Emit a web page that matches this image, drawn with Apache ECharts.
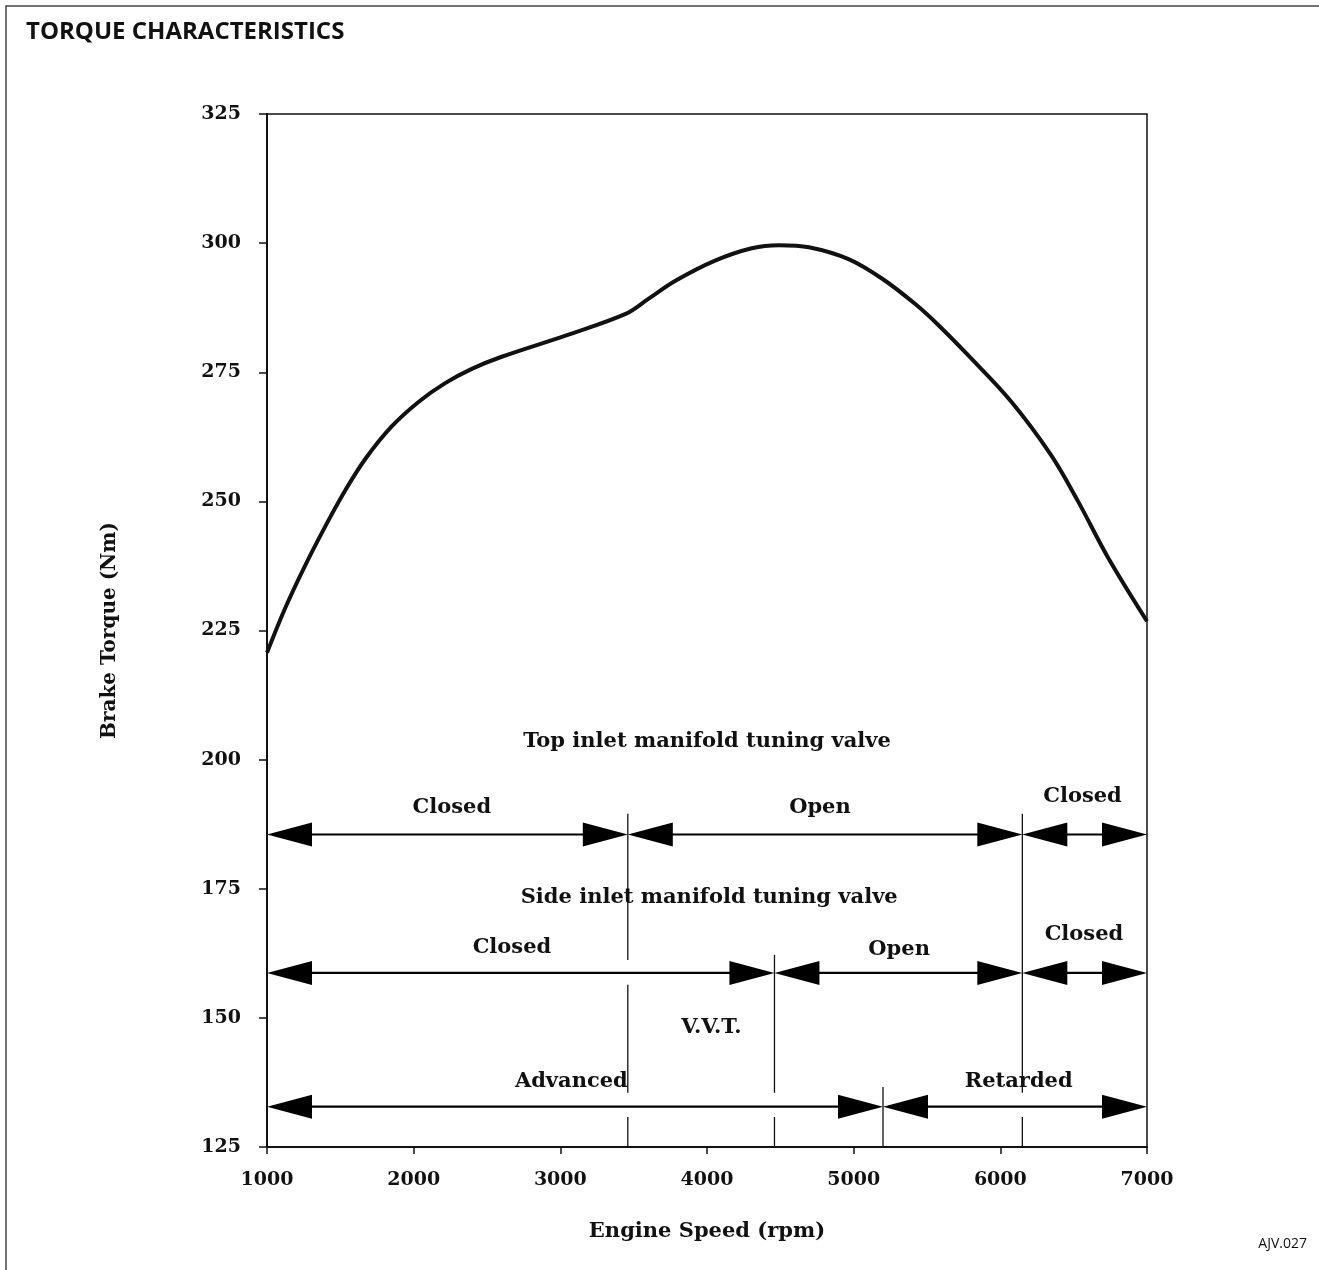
<!DOCTYPE html>
<html>
<head>
<meta charset="utf-8">
<title>Torque characteristics</title>
<script src="https://cdn.jsdelivr.net/npm/echarts/dist/echarts.min.js"></script>
<style>
  html, body { margin: 0; padding: 0; background: #fff; }
  #chart { width: 1319px; height: 1270px; }
</style>
</head>
<body>
<div id="chart"></div>
<script>
// torque curve, [rpm, Nm]
var torqueCurve = [
  [1000, 220.7], [1125, 229.4], [1250, 237], [1400, 245.3], [1535, 252.2],
  [1670, 258.2], [1850, 264.5], [2035, 269.3], [2215, 272.9], [2400, 275.7],
  [2600, 278], [3035, 282.1], [3445, 286.3], [3600, 289.2], [3785, 292.7],
  [4055, 296.6], [4305, 299], [4490, 299.6], [4695, 299.2], [4965, 296.9],
  [5195, 293.1], [5420, 288.2], [5575, 284.2], [5780, 278.3], [6075, 269.3],
  [6345, 259], [6530, 250], [6735, 239.1], [7000, 226.8]
]
// double arrows: [from rpm, to rpm, level]
var arrowSpans = [
  [1000, 3460, 185.5], [3460, 6150, 185.5], [6150, 7000, 185.5],
  [1000, 4460, 158.7], [4460, 6150, 158.7], [6150, 7000, 158.7],
  [1000, 5200, 132.8], [5200, 7000, 132.8]
]
// divider lines: [rpm, top, bottom]
var dividers = [
  [3460, 189.5, 161.2], [3460, 156.4, 135.5], [3460, 130.8, 125],
  [4460, 162.2, 135.5], [4460, 130.8, 125],
  [5200, 136.6, 125],
  [6150, 189.5, 135.5], [6150, 130.8, 125]
]
// annotations: [rpm, Nm, text]
var notes = [
  [4000, 203.5, 'Top inlet manifold tuning valve'],
  [2260, 190.7, 'Closed'], [4770, 190.7, 'Open'], [6560, 192.8, 'Closed'],
  [4015, 173.3, 'Side inlet manifold tuning valve'],
  [2670, 163.6, 'Closed'], [5310, 163.2, 'Open'], [6570, 166.1, 'Closed'],
  [4030, 148.1, 'V.V.T.'],
  [3075, 137.6, 'Advanced'], [6125, 137.6, 'Retarded']
]
var yTicks = [125, 150, 175, 200, 225, 250, 275, 300, 325]
var xTicks = [1000, 2000, 3000, 4000, 5000, 6000, 7000]

var serif = 'DejaVu Serif'
var myChart = echarts.init(document.getElementById('chart'))

function renderArrow (params, api) {
  var lvl = api.value(2)
  var a = api.coord([api.value(0), lvl])
  var b = api.coord([api.value(1), lvl])
  var L = 45
  var H = 12
  return {
    type: 'group',
    children: [
      { type: 'line', shape: { x1: a[0] + L - 2, y1: a[1], x2: b[0] - L + 2, y2: b[1] }, style: { stroke: '#000', lineWidth: 2.2 } },
      { type: 'polygon', shape: { points: [[a[0], a[1]], [a[0] + L, a[1] - H], [a[0] + L, a[1] + H]] }, style: { fill: '#000' } },
      { type: 'polygon', shape: { points: [[b[0], b[1]], [b[0] - L, b[1] - H], [b[0] - L, b[1] + H]] }, style: { fill: '#000' } }
    ]
  }
}

function renderDivider (params, api) {
  var p1 = api.coord([api.value(0), api.value(1)])
  var p2 = api.coord([api.value(0), api.value(2)])
  return { type: 'line', shape: { x1: p1[0], y1: p1[1], x2: p2[0], y2: p2[1] }, style: { stroke: '#111', lineWidth: 1.3 } }
}

function renderNote (params, api) {
  var p = api.coord([api.value(0), api.value(1)])
  return {
    type: 'text',
    x: p[0],
    y: p[1],
    style: {
      text: notes[params.dataIndex][2],
      fontFamily: serif,
      fontWeight: 'bold',
      fontSize: 21,
      fill: '#111',
      align: 'center',
      verticalAlign: 'middle'
    }
  }
}

var option = {
  animation: false,
  backgroundColor: '#fff',
  title: {
    text: 'TORQUE CHARACTERISTICS',
    left: 21,
    top: 15,
    textStyle: { fontFamily: 'Open Sans', fontWeight: 'bold', fontSize: 24, color: '#111' }
  },
  graphic: [
    { type: 'polyline', shape: { points: [[6, 1270], [6, 6], [1319, 6]] }, style: { stroke: '#444', lineWidth: 1.5, fill: null } },
    { type: 'text', right: 12, top: 1237, style: { text: 'AJV.027', fontFamily: 'Open Sans', fontSize: 14, fill: '#111' } }
  ],
  grid: {
    left: 267,
    right: 172,
    top: 114,
    bottom: 123,
    show: true,
    borderColor: '#111',
    borderWidth: 1.5
  },
  xAxis: {
    type: 'value',
    min: xTicks[0],
    max: xTicks[xTicks.length - 1],
    interval: 1000,
    name: 'Engine Speed (rpm)',
    nameLocation: 'middle',
    nameGap: 74,
    nameTextStyle: { fontFamily: serif, fontWeight: 'bold', fontSize: 21, color: '#111' },
    axisLine: { lineStyle: { color: '#111', width: 2 } },
    axisTick: { length: 7, lineStyle: { color: '#111', width: 1.5 } },
    axisLabel: {
      margin: 24,
      fontFamily: serif,
      fontWeight: 'bold',
      fontSize: 19,
      color: '#111',
      formatter: function (v) { return String(v) }
    },
    splitLine: { show: false }
  },
  yAxis: {
    type: 'value',
    min: yTicks[0],
    max: yTicks[yTicks.length - 1],
    interval: 25,
    name: 'Brake Torque (Nm)',
    nameLocation: 'middle',
    nameGap: 147,
    nameRotate: 90,
    nameTextStyle: { fontFamily: serif, fontWeight: 'bold', fontSize: 20, color: '#111' },
    axisLine: { lineStyle: { color: '#111', width: 2 } },
    axisTick: { length: 8, lineStyle: { color: '#111', width: 1.5 } },
    axisLabel: { margin: 26, fontFamily: serif, fontWeight: 'bold', fontSize: 19, color: '#111' },
    splitLine: { show: false }
  },
  series: [
    {
      name: 'torque',
      type: 'line',
      data: torqueCurve,
      smooth: 0.35,
      showSymbol: false,
      symbol: 'none',
      lineStyle: { color: '#111', width: 4 }
    },
    {
      name: 'arrows',
      type: 'custom',
      renderItem: renderArrow,
      encode: { x: [0, 1], y: 2 },
      data: arrowSpans,
      z: 3
    },
    {
      name: 'dividers',
      type: 'custom',
      renderItem: renderDivider,
      encode: { x: 0, y: [1, 2] },
      data: dividers,
      z: 2
    },
    {
      name: 'notes',
      type: 'custom',
      renderItem: renderNote,
      encode: { x: 0, y: 1 },
      data: notes.map(function (n) { return [n[0], n[1]] }),
      z: 4
    }
  ]
}
myChart.setOption(option)
</script>
</body>
</html>
